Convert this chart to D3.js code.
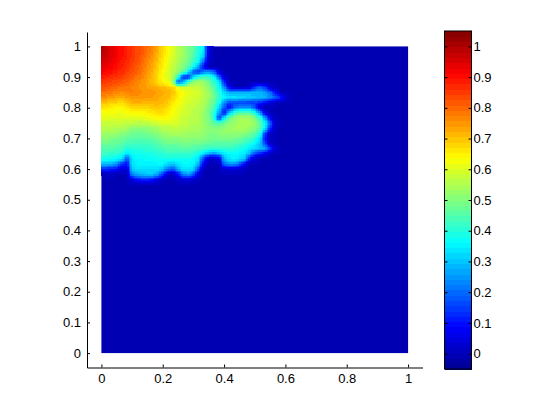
<!DOCTYPE html>
<html><head><meta charset="utf-8">
<script src="https://cdn.jsdelivr.net/npm/d3@7"></script>
<style>
html,body{margin:0;padding:0;background:#fff}
svg{display:block}
text{font-family:"Liberation Sans",Arial,sans-serif;font-size:13px;fill:#000}
</style></head><body>
<div id="chart"></div>
<script>
const xTicks = [0,0.2,0.4,0.6,0.8,1];
const yTicks = [0,0.1,0.2,0.3,0.4,0.5,0.6,0.7,0.8,0.9,1];
const barTicks = [0,0.1,0.2,0.3,0.4,0.5,0.6,0.7,0.8,0.9,1];
const cellsPerSide = 60;
const jetStops = [0,0.125,0.375,0.625,0.875,1];
const jetColors = ["#00008f","#0000ff","#00ffff","#ffff00","#ff0000","#800000"];
// field values in hundredths, row 0 = y 1, column 0 = x 0; anything not listed is 0
const fieldRows = [
[100,97,94,92,90,88,86,84,82,80,77,72,68,64,60,56,53,50,46,40,34,4],
[99,97,94,92,90,88,86,84,82,79,76,72,68,64,60,56,53,50,46,40,33,4],
[98,96,94,92,90,88,86,84,81,78,75,71,67,63,59,56,53,49,45,38,30,3],
[96,95,93,91,89,87,85,83,80,77,74,70,66,62,58,55,52,48,43,36,20,1],
[94,93,92,90,88,86,84,82,79,76,73,69,65,61,57,54,50,45,38,25,8],
[92,91,90,88,87,85,83,81,78,75,72,68,64,60,56,52,46,35,18,14,24,26,20,5],
[89,88,87,86,85,83,81,79,77,74,71,67,63,60,55,42,14,12,32,42,44,42,36,20,4],
[86,85,84,83,82,81,79,77,75,73,71,67,65,62,54,18,26,45,52,54,52,48,42,34,14],
[83,82,81,80,79,78,77,76,75,74,73,72,71,70,68,62,58,59,58,57,55,51,45,38,24,6,0,0,0,2,14,20,14,3],
[80,79,78,77,76,77,78,77,76,75,75,74,73,72,70,66,63,61,60,59,56,53,47,40,32,28,28,28,28,28,28,28,26,20,10],
[76,75,74,73,72,74,75,75,75,74,74,73,72,71,68,65,62,60,59,58,56,53,48,42,36,34,34,33,32,31,30,29,28,24,20,14,3],
[71,70,69,68,67,70,72,72,72,71,72,72,71,69,66,64,61,59,58,57,55,52,46,38,24,16,16,15,15,14,14,12,8,3],
[67,66,65,64,64,66,68,68,68,68,69,70,69,67,64,62,60,58,57,56,54,50,44,32,18,8,20,24,26,26,18,2],
[63,63,63,62,62,63,64,64,64,65,66,67,67,65,63,61,59,58,56,55,53,49,40,26,10,30,42,46,46,46,40,26,6],
[61,61,60,60,60,60,61,61,61,62,63,64,64,63,62,60,58,57,56,55,53,50,40,14,34,48,52,54,54,54,50,42,26,8],
[58,58,58,58,58,57,57,56,56,57,58,59,60,60,60,59,58,57,56,55,53,50,47,44,48,51,53,54,54,54,52,46,36,20,2],
[56,56,56,55,55,54,52,51,51,52,53,54,56,56,57,57,56,55,54,54,53,51,50,50,52,53,54,54,54,53,51,46,34,14],
[54,53,53,53,51,50,48,48,48,49,50,51,53,54,54,54,54,53,53,53,52,50,50,51,52,52,52,52,51,49,46,40,16,2],
[51,51,50,49,48,47,46,46,46,46,47,48,50,51,51,51,52,52,51,51,51,50,49,49,49,49,49,48,46,44,41,34,10],
[48,48,47,47,46,44,43,43,43,43,44,45,47,48,48,48,49,49,48,48,47,46,46,46,46,46,45,44,42,39,36,30,16,2],
[45,45,45,44,43,39,40,41,41,41,42,43,44,45,45,45,46,46,45,44,43,42,42,42,42,42,41,39,37,34,32,30,28,16,2],
[43,42,42,41,40,33,37,38,38,39,39,40,41,42,42,42,42,42,41,38,34,26,24,28,34,36,37,36,34,28,16,10,6],
[38,38,37,36,33,16,34,36,36,37,37,38,38,38,38,38,38,38,37,33,14,2,2,4,28,34,35,34,30,10,2],
[30,29,28,24,14,10,33,35,35,35,35,36,36,32,30,34,36,36,36,28,6,0,0,0,20,25,25,20,8],
[14,13,12,10,4,4,31,33,33,33,33,33,30,22,18,28,34,34,33,16,0,0,0,0,3,4,4,2],
[0,1,1,0,0,0,24,28,30,31,31,28,16,3,1,10,24,28,20,3],
[0,0,0,0,0,0,5,10,14,14,11,5,0,0,0,1,4,5,2]
];

const svg = d3.select("#chart").append("svg").attr("width",560).attr("height",414);
const x = d3.scaleLinear().domain([-0.047,1.047]).range([87,422.5]);
const y = d3.scaleLinear().domain([-0.047,1.047]).range([367.5,32]);
const barY = d3.scaleLinear().domain([-0.05,1.05]).range([369,31]);
const jet = d3.scaleLinear().domain(jetStops).range(jetColors).interpolate(d3.interpolateRgb);
const levels = 64;
const lvlColor = v => {
  const t = (v+0.05)/1.1;
  const k = Math.max(0,Math.min(levels-1,Math.floor(t*levels)));
  return jet((k+0.5)/levels);
};

// surface shading: each grid cell is shaded between its four corner values
const node = (i,j) => ((fieldRows[i]||[])[j]||0)/100;
const sub = 3;
const nRows = fieldRows.length, nCols = d3.max(fieldRows,r=>r.length);
svg.append("rect").attr("x",x(0)).attr("y",y(1)).attr("width",x(1)-x(0)).attr("height",y(0)-y(1)).attr("fill",lvlColor(0));
const subIdx = d3.range(sub);
const cells = d3.range(nRows).flatMap(i => d3.range(nCols).flatMap(j => subIdx.flatMap(si => subIdx.map(sj => {
  const u=(sj+0.5)/sub, w=(si+0.5)/sub;
  const v=(1-w)*((1-u)*node(i,j)+u*node(i,j+1))+w*((1-u)*node(i+1,j)+u*node(i+1,j+1));
  return {c:j+sj/sub,r:i+si/sub,v};
})))).filter(d=>d.v>0.001);
const cx = c => x(c/cellsPerSide), ry = r => y(1-r/cellsPerSide);
svg.append("g").attr("shape-rendering","crispEdges").selectAll("rect").data(cells).join("rect")
  .attr("x",d=>cx(d.c))
  .attr("y",d=>ry(d.r))
  .attr("width",d=>cx(d.c+1/sub)-cx(d.c)+0.6)
  .attr("height",d=>ry(d.r+1/sub)-ry(d.r)+0.6)
  .attr("fill",d=>lvlColor(d.v));

const styleAxis = g => {
  g.selectAll("path").attr("stroke","#000").attr("fill","none");
  g.selectAll("line").attr("stroke","#000");
  g.selectAll("text").style("font-size","13px");
};
svg.append("g").attr("transform","translate(0,367.5)")
  .call(d3.axisBottom(x).tickValues(xTicks).tickFormat(d3.format("~g")).tickSize(-3).tickSizeOuter(0).tickPadding(6))
  .call(styleAxis);
svg.append("g").attr("transform","translate(87,0)")
  .call(d3.axisLeft(y).tickValues(yTicks).tickFormat(d3.format("~g")).tickSize(-3).tickSizeOuter(0).tickPadding(6))
  .call(styleAxis);

// colourbar
const barLevels = d3.range(levels);
svg.append("g").attr("shape-rendering","crispEdges").selectAll("rect").data(barLevels).join("rect")
  .attr("x",444.5).attr("width",27)
  .attr("y",d=>barY(-0.05+(d+1)*1.1/levels))
  .attr("height",d=>barY(-0.05+d*1.1/levels)-barY(-0.05+(d+1)*1.1/levels)+0.6)
  .attr("fill",d=>jet((d+0.5)/levels));
svg.append("rect").attr("x",444.5).attr("y",31).attr("width",27).attr("height",338)
  .attr("fill","none").attr("stroke","#000");
const barAxis = svg.append("g").attr("transform","translate(471.5,0)")
  .call(d3.axisRight(barY).tickValues(barTicks).tickFormat(d3.format("~g")).tickSize(-3).tickSizeOuter(0).tickPadding(2))
  .call(styleAxis);
barAxis.select("path").remove();
svg.append("g").attr("transform","translate(444.5,0)")
  .call(d3.axisLeft(barY).tickValues(barTicks).tickFormat("").tickSize(-3).tickSizeOuter(0))
  .call(styleAxis).select("path").remove();
</script></body></html>
